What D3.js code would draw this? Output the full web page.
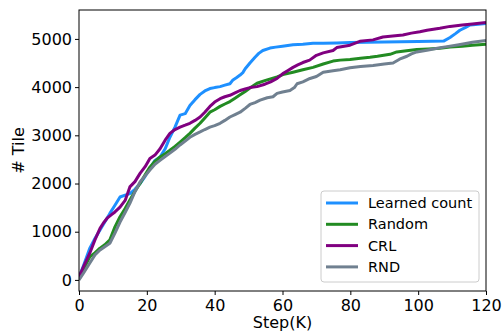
<!DOCTYPE html>
<html>
<head>
  <meta charset="utf-8">
  <title>Tiles</title>
  <style>
    body { margin: 0; background: #fff; }
    text { font-family: "DejaVu Sans", sans-serif; fill: #000; }
  </style>
</head>
<body>
  <div id="plot"></div>
  <script src="https://cdn.jsdelivr.net/npm/d3@7"></script>
  <script>
    // series: [step(K), tiles]
    const learned = [[0,50],[1.5,330],[3.2,660],[4.7,860],[6.2,1035],[7.6,1200],[9.1,1380],[10.6,1550],[12.1,1720],[13.6,1760],[15,1790],[16.5,1880],[18,2000],[19.5,2150],[20.9,2310],[22.4,2480],[23.9,2550],[25.4,2720],[26.8,2960],[28.3,3170],[29.8,3420],[31.3,3450],[32.7,3620],[34.2,3740],[35.7,3850],[37.1,3920],[38.6,3970],[40,3990],[41.6,4010],[43,4040],[44.5,4070],[45.4,4150],[46.5,4200],[47.5,4250],[48.3,4300],[49,4380],[50.4,4500],[51.9,4620],[53,4700],[54.2,4760],[56.3,4810],[58,4830],[60,4850],[63.1,4880],[66,4890],[69,4910],[72,4910],[76,4915],[80,4925],[85,4930],[90,4935],[95,4940],[100,4945],[104,4950],[107.5,4955],[109.4,5030],[111,5110],[112.3,5180],[114,5240],[115.3,5290],[117,5300],[120,5320]];
    const random = [[0,40],[1.5,250],[3.2,480],[4.7,560],[6.2,660],[7.6,730],[9.1,830],[10.6,1100],[12.1,1310],[13.6,1480],[15,1660],[16.5,1840],[18,2000],[19.5,2180],[20.9,2340],[22.4,2460],[23.9,2550],[25.4,2620],[26.8,2690],[28.3,2770],[29.8,2860],[31.3,2950],[32.7,3040],[34.2,3150],[35.7,3250],[37.1,3360],[38.6,3480],[40,3530],[41.6,3600],[43,3650],[44.5,3700],[46,3770],[47.5,3840],[49,3910],[50.4,3980],[52.5,4080],[55,4140],[58.4,4210],[60.1,4260],[63.1,4310],[66,4360],[69,4410],[72,4480],[74.9,4540],[77,4560],[79.9,4575],[83,4600],[85.8,4620],[88,4640],[91.7,4680],[93.7,4730],[96,4750],[99.6,4780],[103,4790],[106.4,4805],[109.4,4830],[113,4850],[116,4870],[120,4890]];
    const crl = [[0,60],[1.5,300],[3.2,560],[4.7,830],[6.2,1070],[7.2,1180],[8.3,1280],[9.5,1350],[10.6,1410],[12.1,1510],[13.6,1650],[15,1930],[16.5,2040],[18,2210],[19.5,2350],[20.9,2520],[22.4,2590],[23.9,2720],[25.4,2900],[26.8,3040],[28.3,3120],[29.8,3170],[31.3,3210],[32.7,3250],[34.2,3310],[35.7,3380],[37.1,3480],[38.6,3600],[40,3690],[41.6,3760],[43,3800],[44.5,3830],[46,3880],[47.5,3930],[49,3960],[50.4,3990],[52.5,4010],[54.8,4060],[56.5,4110],[58.4,4180],[60.1,4280],[61.5,4340],[63.1,4410],[64.5,4460],[66,4510],[68,4560],[70,4660],[72,4710],[74.9,4760],[76,4820],[79.9,4870],[82.8,4950],[86.7,4980],[89.6,5040],[92.5,5060],[95.5,5080],[98,5120],[100.5,5150],[102.6,5180],[106.4,5220],[109.4,5260],[113,5290],[116,5310],[120,5340]];
    const rnd = [[0,0],[1.5,160],[3.2,350],[4.7,520],[6.2,620],[7.6,690],[9.1,760],[10.6,970],[12.1,1200],[13.6,1400],[15,1590],[16.5,1830],[18,2030],[19.5,2160],[20.9,2280],[22.4,2400],[23.9,2480],[25.4,2560],[26.8,2630],[28.3,2710],[29.8,2800],[31.3,2880],[32.7,2960],[34.2,3020],[35.7,3070],[37.1,3120],[38.6,3170],[40,3200],[41.6,3250],[43,3310],[44.5,3380],[46,3430],[47.5,3480],[49,3560],[50.4,3640],[51.9,3680],[53.4,3730],[55.5,3780],[57.2,3800],[58.4,3870],[60,3900],[62.2,3930],[63.5,3990],[64.3,4070],[66,4110],[68.1,4180],[70,4220],[72,4310],[74.9,4340],[77,4360],[79.9,4400],[83,4430],[86.7,4450],[90,4480],[92.6,4500],[94.5,4580],[96.7,4640],[98,4690],[99.6,4730],[103,4770],[106,4810],[108.5,4840],[112,4880],[116,4930],[120,4970]];

    const seriesNames = ['Learned count', 'Random', 'CRL', 'RND'];
    const seriesData = [learned, random, crl, rnd];
    const seriesColors = ['#1e90ff', '#228b22', '#800080', '#708090'];
    const xTicks = [0, 20, 40, 60, 80, 100, 120];
    const yTicks = [0, 1000, 2000, 3000, 4000, 5000];

    const svgWidth = 504, svgHeight = 331;
    const margin = {top: 10, right: 18, bottom: 40, left: 79};
    const width = svgWidth - margin.left - margin.right;
    const height = svgHeight - margin.top - margin.bottom;

    function translate(x, y) { return 'translate(' + x + ',' + y + ')'; }

    const svg = d3.select('#plot').append('svg')
      .attr('width', svgWidth).attr('height', svgHeight)
      .style('display', 'block')
      .append('g').attr('transform', translate(margin.left, margin.top));

    const x = d3.scaleLinear().domain([0, 120]).range([0, width]);
    const y = d3.scaleLinear().domain([-230, 5600]).range([height, 0]);

    const line = d3.line().x(d => x(d[0])).y(d => y(d[1]));

    const plotArea = svg.append('g');
    plotArea.append('clipPath').attr('id', 'clip')
      .append('rect').attr('width', width).attr('height', height);

    seriesData.forEach(function (s, i) {
      plotArea.append('path')
        .datum(s)
        .attr('clip-path', 'url(#clip)')
        .attr('fill', 'none')
        .attr('stroke', seriesColors[i])
        .attr('stroke-width', 3)
        .attr('stroke-linejoin', 'round')
        .attr('d', line);
    });

    // axes
    const xAxis = svg.append('g').attr('transform', translate(0, height))
      .call(d3.axisBottom(x).tickValues(xTicks).tickFormat(d3.format('d')).tickSize(4).tickPadding(5));
    const yAxis = svg.append('g')
      .call(d3.axisLeft(y).tickValues(yTicks).tickFormat(d3.format('d')).tickSize(4).tickPadding(3));
    [xAxis, yAxis].forEach(function (a) {
      a.selectAll('text').style('font-size', '16px').style('font-family', '"DejaVu Sans", sans-serif');
      a.select('.domain').remove();
      a.selectAll('line').attr('stroke', '#000');
    });

    svg.append('rect')
      .attr('width', width).attr('height', height)
      .attr('fill', 'none').attr('stroke', '#000').attr('stroke-width', 1);

    svg.append('text')
      .attr('x', width / 2).attr('y', height + 37)
      .attr('text-anchor', 'middle').style('font-size', '16px')
      .text('Step(K)');
    svg.append('text')
      .attr('transform', translate(-55, height / 2) + ' rotate(-90)')
      .attr('text-anchor', 'middle').style('font-size', '16px')
      .text('# Tile');

    // legend
    const legend = svg.append('g').attr('transform', translate(242, 181));
    legend.append('rect')
      .attr('width', 158).attr('height', 91).attr('rx', 3)
      .attr('fill', '#fff').attr('fill-opacity', 0.8)
      .attr('stroke', '#ccc');
    seriesNames.forEach(function (name, i) {
      const ly = 12 + i * 21.3;
      legend.append('line')
        .attr('x1', 5).attr('x2', 37).attr('y1', ly).attr('y2', ly)
        .attr('stroke', seriesColors[i]).attr('stroke-width', 3);
      legend.append('text')
        .attr('x', 47).attr('y', ly).attr('dy', '0.35em')
        .style('font-size', '14.5px').text(name);
    });
  </script>
</body>
</html>
